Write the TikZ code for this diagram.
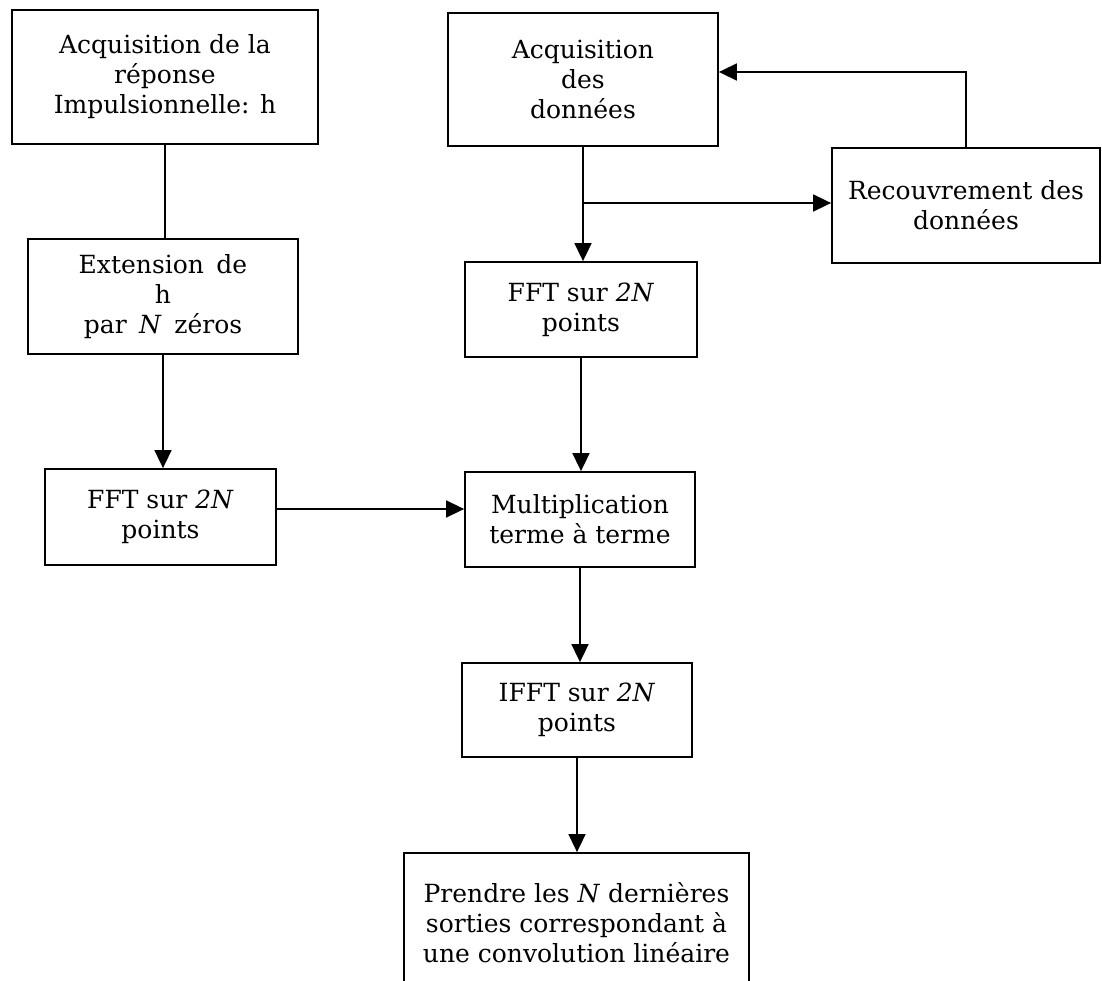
\documentclass[tikz,border=0pt]{standalone}
\usepackage{fontspec}
\setmainfont{DejaVu Serif}
\usetikzlibrary{arrows.meta,calc}
\begin{document}
\begin{tikzpicture}[x=1pt,y=-1pt,
  box/.style={draw,line width=1.8pt,rectangle,align=center,inner sep=0pt,
              font=\fontsize{25}{30}\selectfont},
  arr/.style={line width=1.7pt,-{Triangle[length=18pt,width=17pt]}},
  ln/.style={line width=1.7pt}]
\useasboundingbox (0,0) rectangle (1102,981);
\clip (0,0) rectangle (1102,981);
\fill[white] (0,0) rectangle (1102,981);

\node[box,minimum width=306,minimum height=134] (b1) at (165,77)
  {Acquisition de la\\réponse\\Impulsionnelle: h};
\node[box,minimum width=270,minimum height=133] (b2) at (583,79.5)
  {Acquisition\\des\\données};
\node[box,minimum width=268,minimum height=115] (b3) at (966,205.5)
  {Recouvrement des\\données};
\node[box,minimum width=270,minimum height=115] (b4) at (163,296.5)
  {Extension\enspace de\\h\\par\enspace\textit{N}\enspace zéros};
\node[box,minimum width=232,minimum height=95] (b5) at (581,309.5)
  {FFT sur \textit{2N}\\points};
\node[box,minimum width=231,minimum height=96] (b6) at (160.5,517)
  {FFT sur \textit{2N}\\points};
\node[box,minimum width=230,minimum height=95] (b7) at (580,519.5)
  {Multiplication\\terme à terme};
\node[box,minimum width=230,minimum height=94] (b8) at (577,710)
  {IFFT sur \textit{2N}\\points};
\node[box,minimum width=345,minimum height=140] (b9) at (576.5,923)
  {Prendre les \textit{N} dernières\\sorties correspondant à\\une convolution linéaire};

\coordinate (j) at (583,203);

\draw[ln] (b1.south) -- (b1.south |- b4.north);
\draw[arr] (b4.south) -- (b4.south |- b6.north);
\draw[arr] (b6.east |- 0,509) -- (b7.west |- 0,509);
\draw[arr] (b2.south) -- (b2.south |- b5.north);
\draw[arr] (j) -- (b3.west |- j);
\draw[arr] (b3.north) |- (b2.east |- 0,72);
\draw[arr] (b5.south) -- (b5.south |- b7.north);
\draw[arr] (b7.south) -- (b7.south |- b8.north);
\draw[arr] (b8.south) -- (b8.south |- b9.north);
\end{tikzpicture}
\end{document}
